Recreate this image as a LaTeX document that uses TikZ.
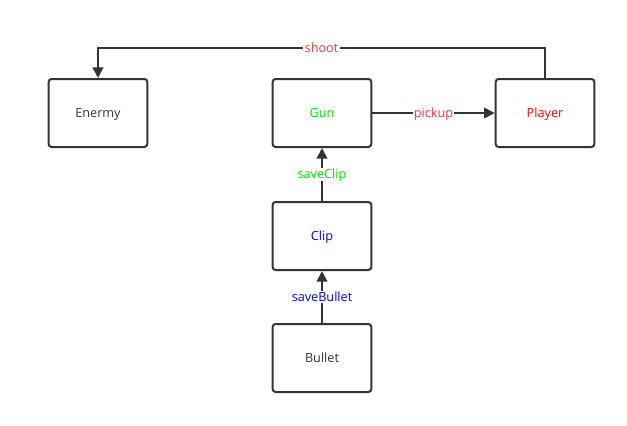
\documentclass[tikz,border=0pt]{standalone}
\usepackage{fontspec}
\setmainfont{Open Sans}
\usepackage{tikz}
\usetikzlibrary{arrows.meta}
\definecolor{dline}{HTML}{333333}
\definecolor{lred}{HTML}{FF3333}
\definecolor{gunc}{HTML}{00E000}
\definecolor{clipc}{HTML}{0000FF}
\tikzstyle{block}=[rectangle, rounded corners=2.2pt, draw=dline, line width=1.5pt, minimum width=74pt, minimum height=51pt, text height=7pt, text depth=0.3pt, font=\fontsize{9.5}{11}\selectfont, text=dline]
\tikzstyle{arrow}=[-{Triangle[length=8pt,width=8pt]}, draw=dline, line width=1.5pt]
\tikzstyle{label}=[fill=white, inner sep=1pt, text height=7pt, text depth=0.3pt, font=\fontsize{9.5}{11}\selectfont]
\pgfdeclarelayer{edgelayer}
\pgfdeclarelayer{nodelayer}
\pgfsetlayers{edgelayer,nodelayer,main}
\begin{document}
\begin{tikzpicture}[x=0.75pt, y=-0.75pt]
            \useasboundingbox (0, 0) rectangle (627, 425);
            \begin{pgfonlayer}{nodelayer}
                \coordinate (en) at (98, 48);
                \coordinate (pl) at (545, 48);
                \node [style=block] (Enermy) at (98, 113) {Enermy};
                \node [style=block, text=gunc] (Gun) at (322, 113) {Gun};
                \node [style=block, text=red] (Player) at (545, 113) {Player};
                \node [style=block, text=clipc] (Clip) at (322, 236) {Clip};
                \node [style=block] (Bullet) at (322, 358) {Bullet};
            \end{pgfonlayer}
            \begin{pgfonlayer}{edgelayer}
                \draw [style=arrow] (Player.north) -- (pl) -- node [style=label, text=lred] {shoot} (en) -- (Enermy.north);
                \draw [style=arrow] (Gun) -- node [style=label, text=lred] {pickup} (Player);
                \draw [style=arrow] (Clip) -- node [style=label, text=gunc] {saveClip} (Gun);
                \draw [style=arrow] (Bullet) -- node [style=label, text=clipc] {saveBullet} (Clip);
            \end{pgfonlayer}
        \end{tikzpicture}
\end{document}
